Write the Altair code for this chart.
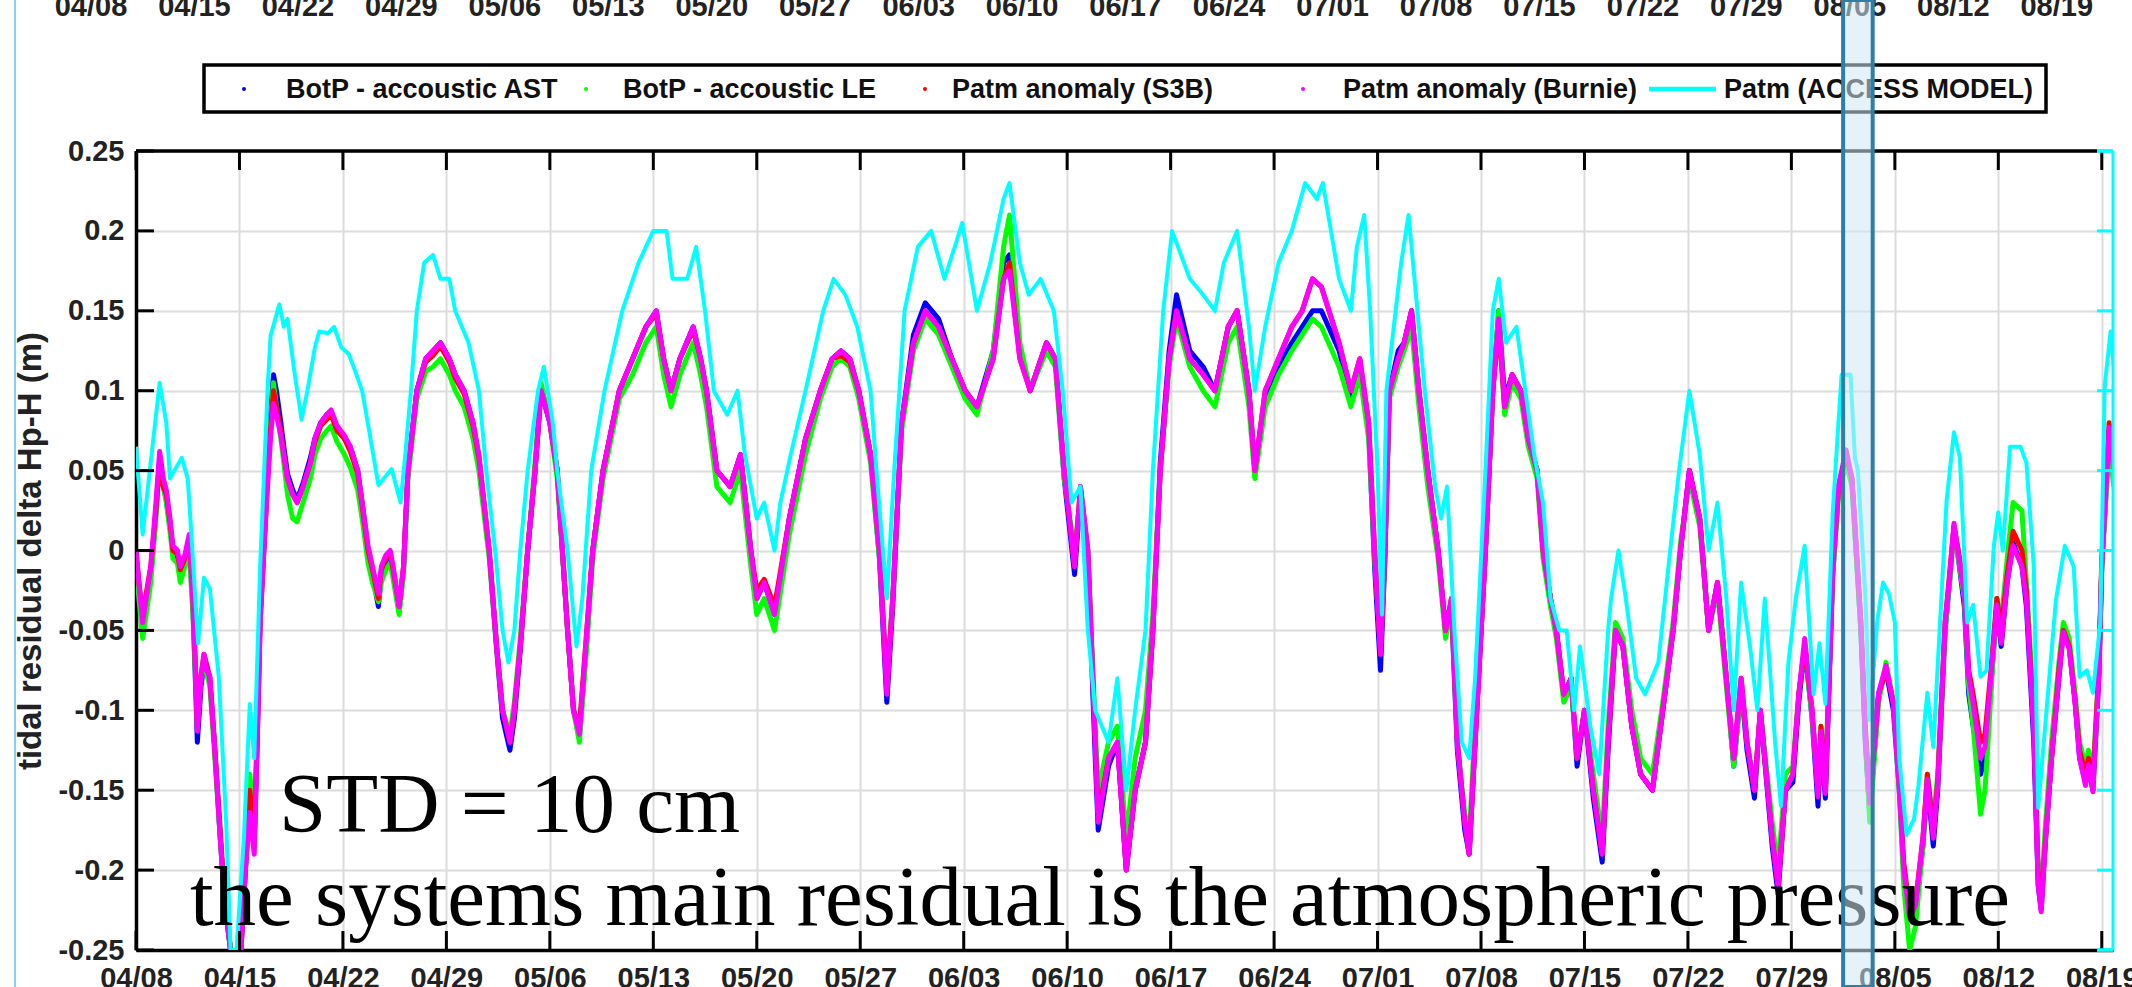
import altair as alt
import pandas as pd

START = pd.Timestamp("2019-04-08 00:00:00")
END_DAY = 133.76

SERIES = ["BotP - accoustic AST", "BotP - accoustic LE", "Patm anomaly (S3B)",
          "Patm anomaly (Burnie)", "Patm (ACCESS MODEL)"]
COLORS = ["#0000ff", "#00ff00", "#ff0000", "#ff00ff", "#00ffff"]

TICK_LABELS = ["04/08", "04/15", "04/22", "04/29", "05/06", "05/13", "05/20", "05/27",
               "06/03", "06/10", "06/17", "06/24", "07/01", "07/08", "07/15", "07/22",
               "07/29", "08/05", "08/12", "08/19"]
Y_TICKS = [-0.25, -0.2, -0.15, -0.1, -0.05, 0, 0.05, 0.1, 0.15, 0.2, 0.25]
ANNOTATIONS = ["STD = 10 cm", "the systems main residual is the atmospheric pressure"]
BAND_DAYS = [115.5, 117.5]

# days since 04/08 shared by the four bottom-pressure / Patm-anomaly series
MAIN_DAYS = [
    0.0, 0.45, 1.0, 1.35, 1.6, 1.85, 2.05, 2.3, 2.5, 2.8,
    3.0, 3.3, 3.6, 3.85, 4.05, 4.15, 4.4, 4.6, 4.8, 5.0,
    5.3, 5.7, 6.0, 6.4, 6.8, 7.1, 7.4, 7.7, 8.0, 8.2,
    8.4, 8.65, 8.9, 9.1, 9.3, 9.5, 9.8, 10.0, 10.25, 10.6,
    10.9, 11.3, 11.8, 12.1, 12.5, 12.9, 13.2, 13.6, 14.1, 14.5,
    15.0, 15.3, 15.7, 16.0, 16.4, 16.6, 16.9, 17.2, 17.4, 17.8,
    18.1, 18.4, 19.0, 19.6, 20.1, 20.6, 21.2, 21.6, 22.2, 22.8,
    23.2, 23.9, 24.4, 24.8, 25.3, 25.6, 26.0, 26.5, 27.0, 27.4,
    28.0, 28.5, 29.2, 29.6, 30.0, 30.5, 30.9, 31.6, 32.7, 33.6,
    34.5, 35.2, 35.7, 36.2, 36.8, 37.7, 38.2, 38.6, 39.3, 40.2,
    40.9, 41.6, 42.0, 42.5, 43.2, 44.2, 45.3, 46.3, 47.1, 47.7,
    48.3, 48.9, 49.7, 50.3, 50.8, 51.2, 51.8, 52.6, 53.4, 54.3,
    55.2, 56.1, 56.9, 58.0, 58.7, 59.1, 59.8, 60.5, 61.6, 62.2,
    62.8, 63.5, 63.9, 64.4, 64.9, 65.1, 65.8, 66.4, 67.0, 67.6,
    68.3, 68.8, 69.3, 69.9, 70.4, 71.3, 72.2, 73.0, 73.9, 74.5,
    75.3, 75.7, 76.4, 77.3, 78.2, 78.9, 79.6, 80.2, 81.4, 82.2,
    82.8, 83.4, 83.8, 84.2, 84.5, 84.8, 85.4, 85.8, 86.3, 86.8,
    87.4, 88.1, 88.6, 89.0, 89.4, 89.9, 90.2, 90.6, 91.3, 91.8,
    92.2, 92.6, 93.1, 93.7, 94.2, 94.8, 95.2, 95.7, 96.1, 96.6,
    97.1, 97.5, 98.0, 98.6, 99.2, 99.6, 100.1, 100.6, 101.2, 101.8,
    102.6, 103.3, 104.0, 104.5, 105.1, 105.8, 106.4, 107.0, 107.6, 108.1,
    108.6, 109.0, 109.5, 109.9, 110.7, 111.1, 111.6, 112.1, 112.5, 112.9,
    113.4, 113.8, 114.0, 114.3, 114.8, 115.2, 115.7, 116.1, 116.3, 116.7,
    117.0, 117.3, 117.9, 118.4, 118.9, 119.3, 119.6, 120.0, 120.4, 120.9,
    121.2, 121.6, 121.9, 122.4, 122.7, 123.0, 123.3, 123.7, 124.0, 124.3,
    124.8, 125.1, 125.5, 125.9, 126.2, 126.6, 127.0, 127.6, 127.9, 128.4,
    128.7, 128.9, 129.2, 129.6, 130.1, 130.4, 130.8, 131.2, 131.5, 131.9,
    132.1, 132.4, 132.8, 133.0, 133.4, 133.5, 133.8,
]

AST = [
    0.0, -0.05, -0.015, 0.025, 0.058, 0.04, 0.032, 0.015, 0.0, -0.005,
    -0.015, -0.008, 0.005, -0.035, -0.09, -0.12, -0.085, -0.07, -0.075, -0.082,
    -0.12, -0.18, -0.22, -0.25, -0.26, -0.25, -0.2, -0.155, -0.185, -0.115,
    -0.04, 0.005, 0.05, 0.085, 0.11, 0.1, 0.08, 0.065, 0.048, 0.038,
    0.032, 0.042, 0.058, 0.07, 0.08, 0.085, 0.086, 0.076, 0.07, 0.065,
    0.05, 0.03, 0.0, -0.015, -0.035, -0.015, -0.008, -0.005, -0.015, -0.038,
    -0.012, 0.05, 0.1, 0.12, 0.125, 0.13, 0.12, 0.11, 0.1, 0.08,
    0.058, -0.002, -0.062, -0.105, -0.125, -0.105, -0.062, 0.0, 0.05, 0.1,
    0.08, 0.05, -0.05, -0.1, -0.115, -0.055, 0.0, 0.05, 0.1, 0.12,
    0.14, 0.15, 0.12, 0.1, 0.12, 0.14, 0.12, 0.1, 0.05, 0.04,
    0.06, 0.0, -0.03, -0.02, -0.04, 0.02, 0.07, 0.1, 0.12, 0.125,
    0.12, 0.1, 0.06, -0.005, -0.095, -0.035, 0.08, 0.135, 0.155, 0.145,
    0.12, 0.1, 0.09, 0.125, 0.18, 0.185, 0.125, 0.1, 0.13, 0.12,
    0.045, -0.015, 0.035, -0.005, -0.13, -0.175, -0.135, -0.12, -0.2, -0.15,
    -0.12, -0.05, 0.055, 0.125, 0.16, 0.125, 0.115, 0.1, 0.14, 0.15,
    0.1, 0.05, 0.095, 0.115, 0.13, 0.14, 0.15, 0.15, 0.125, 0.095,
    0.115, 0.075, -0.01, -0.075, -0.005, 0.1, 0.125, 0.13, 0.15, 0.1,
    0.05, 0.0, -0.05, -0.035, -0.125, -0.175, -0.19, -0.12, 0.0, 0.1,
    0.15, 0.095, 0.11, 0.1, 0.07, 0.05, 0.0, -0.03, -0.05, -0.09,
    -0.08, -0.135, -0.1, -0.155, -0.195, -0.125, -0.05, -0.06, -0.11, -0.14,
    -0.15, -0.1, -0.05, 0.0, 0.05, 0.02, -0.05, -0.02, -0.08, -0.135,
    -0.085, -0.125, -0.155, -0.1, -0.185, -0.215, -0.15, -0.145, -0.095, -0.06,
    -0.105, -0.16, -0.12, -0.155, -0.015, 0.04, 0.06, 0.042, 0.012, -0.05,
    -0.12, -0.165, -0.09, -0.075, -0.1, -0.15, -0.2, -0.23, -0.225, -0.185,
    -0.145, -0.185, -0.15, -0.05, -0.02, 0.015, -0.005, -0.035, -0.09, -0.11,
    -0.14, -0.13, -0.085, -0.035, -0.06, -0.02, 0.005, -0.01, -0.035, -0.12,
    -0.21, -0.225, -0.18, -0.13, -0.08, -0.05, -0.06, -0.095, -0.13, -0.145,
    -0.135, -0.15, -0.08, -0.01, 0.055, 0.075, 0.05,
]

LE = [
    -0.01, -0.055, -0.02, 0.02, 0.058, 0.04, 0.03, 0.012, -0.005, -0.008,
    -0.02, -0.01, 0.0, -0.04, -0.085, -0.11, -0.08, -0.068, -0.078, -0.085,
    -0.125, -0.18, -0.22, -0.25, -0.26, -0.25, -0.19, -0.14, -0.17, -0.11,
    -0.04, 0.0, 0.045, 0.08, 0.105, 0.09, 0.07, 0.055, 0.035, 0.02,
    0.018, 0.03, 0.045, 0.06, 0.07, 0.075, 0.078, 0.068, 0.06, 0.052,
    0.038, 0.02, -0.008, -0.02, -0.032, -0.02, -0.012, -0.008, -0.018, -0.04,
    -0.015, 0.045, 0.095, 0.112, 0.115, 0.12, 0.11, 0.1, 0.09, 0.07,
    0.05, -0.005, -0.06, -0.1, -0.115, -0.095, -0.055, 0.0, 0.055, 0.105,
    0.08, 0.045, -0.05, -0.1, -0.12, -0.06, -0.005, 0.045, 0.095, 0.11,
    0.13, 0.14, 0.11, 0.09, 0.11, 0.13, 0.11, 0.09, 0.04, 0.03,
    0.05, -0.01, -0.04, -0.03, -0.05, 0.01, 0.06, 0.095, 0.115, 0.12,
    0.115, 0.095, 0.055, -0.005, -0.08, -0.03, 0.075, 0.125, 0.145, 0.135,
    0.115, 0.095, 0.085, 0.125, 0.19, 0.21, 0.13, 0.1, 0.125, 0.115,
    0.045, 0.0, 0.035, 0.0, -0.11, -0.15, -0.12, -0.11, -0.18, -0.13,
    -0.1, -0.04, 0.05, 0.115, 0.145, 0.115, 0.1, 0.09, 0.13, 0.14,
    0.09, 0.045, 0.09, 0.11, 0.125, 0.135, 0.145, 0.14, 0.115, 0.09,
    0.11, 0.07, -0.005, -0.06, 0.0, 0.095, 0.115, 0.125, 0.14, 0.09,
    0.04, -0.005, -0.055, -0.035, -0.12, -0.165, -0.18, -0.11, 0.0, 0.1,
    0.15, 0.085, 0.105, 0.095, 0.065, 0.045, -0.005, -0.035, -0.055, -0.095,
    -0.085, -0.13, -0.1, -0.14, -0.18, -0.11, -0.045, -0.055, -0.1, -0.13,
    -0.14, -0.095, -0.045, 0.005, 0.045, 0.015, -0.05, -0.025, -0.085, -0.135,
    -0.085, -0.12, -0.15, -0.1, -0.17, -0.2, -0.14, -0.135, -0.09, -0.06,
    -0.105, -0.15, -0.11, -0.14, -0.015, 0.035, 0.055, 0.04, 0.01, -0.05,
    -0.115, -0.17, -0.095, -0.07, -0.095, -0.15, -0.21, -0.25, -0.235, -0.185,
    -0.14, -0.17, -0.14, -0.05, -0.02, 0.012, -0.005, -0.03, -0.085, -0.11,
    -0.165, -0.15, -0.09, -0.03, -0.045, -0.005, 0.03, 0.025, -0.02, -0.1,
    -0.2, -0.215, -0.17, -0.12, -0.07, -0.045, -0.055, -0.09, -0.12, -0.135,
    -0.125, -0.14, -0.075, -0.01, 0.05, 0.07, 0.04,
]

S3B = [
    -0.005, -0.04, -0.01, 0.025, 0.055, 0.04, 0.035, 0.018, 0.0, -0.002,
    -0.012, -0.005, 0.008, -0.03, -0.08, -0.11, -0.078, -0.065, -0.072, -0.08,
    -0.12, -0.175, -0.22, -0.25, -0.26, -0.25, -0.2, -0.15, -0.18, -0.12,
    -0.045, 0.0, 0.045, 0.075, 0.1, 0.09, 0.075, 0.06, 0.045, 0.035,
    0.03, 0.04, 0.055, 0.068, 0.078, 0.082, 0.085, 0.075, 0.07, 0.062,
    0.048, 0.028, 0.0, -0.012, -0.03, -0.012, -0.005, -0.002, -0.012, -0.035,
    -0.01, 0.05, 0.1, 0.118, 0.122, 0.128, 0.118, 0.108, 0.098, 0.078,
    0.058, 0.0, -0.06, -0.1, -0.12, -0.1, -0.06, 0.0, 0.05, 0.1,
    0.08, 0.05, -0.05, -0.1, -0.11, -0.05, 0.0, 0.05, 0.1, 0.12,
    0.14, 0.148, 0.12, 0.1, 0.12, 0.138, 0.12, 0.1, 0.05, 0.04,
    0.06, 0.0, -0.025, -0.018, -0.035, 0.02, 0.07, 0.1, 0.12, 0.122,
    0.118, 0.1, 0.06, 0.0, -0.085, -0.03, 0.08, 0.13, 0.15, 0.14,
    0.12, 0.1, 0.09, 0.12, 0.17, 0.18, 0.12, 0.1, 0.13, 0.12,
    0.05, -0.01, 0.04, 0.0, -0.12, -0.165, -0.13, -0.12, -0.2, -0.15,
    -0.12, -0.05, 0.05, 0.12, 0.15, 0.12, 0.11, 0.1, 0.14, 0.15,
    0.1, 0.05, 0.1, 0.12, 0.14, 0.15, 0.17, 0.165, 0.13, 0.1,
    0.12, 0.08, 0.0, -0.065, 0.0, 0.1, 0.12, 0.13, 0.15, 0.1,
    0.05, 0.0, -0.05, -0.03, -0.12, -0.17, -0.19, -0.12, 0.0, 0.1,
    0.14, 0.09, 0.11, 0.1, 0.07, 0.05, 0.0, -0.03, -0.05, -0.09,
    -0.08, -0.13, -0.1, -0.15, -0.19, -0.12, -0.05, -0.06, -0.11, -0.14,
    -0.15, -0.1, -0.05, 0.0, 0.05, 0.02, -0.05, -0.02, -0.08, -0.13,
    -0.08, -0.12, -0.15, -0.1, -0.18, -0.21, -0.15, -0.14, -0.09, -0.06,
    -0.1, -0.15, -0.11, -0.15, -0.01, 0.04, 0.06, 0.045, 0.015, -0.045,
    -0.11, -0.155, -0.09, -0.075, -0.095, -0.145, -0.195, -0.225, -0.22, -0.18,
    -0.14, -0.175, -0.145, -0.045, -0.015, 0.015, 0.0, -0.025, -0.075, -0.09,
    -0.12, -0.115, -0.075, -0.03, -0.05, -0.015, 0.012, 0.0, -0.025, -0.11,
    -0.205, -0.22, -0.18, -0.13, -0.075, -0.05, -0.06, -0.095, -0.125, -0.14,
    -0.13, -0.145, -0.075, -0.005, 0.062, 0.08, 0.055,
]

BURNIE = [
    0.0, -0.045, -0.01, 0.03, 0.062, 0.045, 0.038, 0.02, 0.003, 0.0,
    -0.01, -0.003, 0.01, -0.03, -0.08, -0.113, -0.08, -0.065, -0.075, -0.079,
    -0.12, -0.18, -0.22, -0.25, -0.26, -0.25, -0.2, -0.164, -0.19, -0.12,
    -0.045, 0.0, 0.04, 0.07, 0.092, 0.085, 0.072, 0.06, 0.045, 0.035,
    0.03, 0.04, 0.055, 0.07, 0.08, 0.085, 0.088, 0.078, 0.072, 0.065,
    0.05, 0.03, 0.003, -0.01, -0.027, -0.01, -0.003, 0.0, -0.01, -0.035,
    -0.01, 0.05, 0.1, 0.12, 0.125, 0.13, 0.12, 0.11, 0.1, 0.08,
    0.06, 0.0, -0.06, -0.1, -0.12, -0.1, -0.06, 0.0, 0.05, 0.1,
    0.08, 0.05, -0.05, -0.1, -0.115, -0.05, 0.0, 0.05, 0.1, 0.12,
    0.14, 0.15, 0.12, 0.1, 0.12, 0.14, 0.12, 0.1, 0.05, 0.04,
    0.06, 0.0, -0.03, -0.02, -0.04, 0.02, 0.07, 0.1, 0.12, 0.125,
    0.12, 0.1, 0.06, 0.0, -0.09, -0.03, 0.08, 0.13, 0.15, 0.14,
    0.12, 0.1, 0.09, 0.12, 0.17, 0.175, 0.12, 0.1, 0.13, 0.12,
    0.05, -0.01, 0.04, 0.0, -0.12, -0.17, -0.13, -0.12, -0.2, -0.15,
    -0.12, -0.05, 0.05, 0.12, 0.15, 0.12, 0.11, 0.1, 0.14, 0.15,
    0.1, 0.05, 0.1, 0.12, 0.14, 0.15, 0.17, 0.165, 0.13, 0.1,
    0.12, 0.08, 0.0, -0.065, 0.0, 0.1, 0.12, 0.13, 0.15, 0.1,
    0.05, 0.0, -0.05, -0.03, -0.12, -0.17, -0.19, -0.12, 0.0, 0.1,
    0.145, 0.09, 0.11, 0.1, 0.07, 0.05, 0.0, -0.03, -0.05, -0.09,
    -0.08, -0.13, -0.1, -0.15, -0.19, -0.12, -0.05, -0.06, -0.11, -0.14,
    -0.15, -0.1, -0.05, 0.0, 0.05, 0.02, -0.05, -0.02, -0.08, -0.13,
    -0.08, -0.12, -0.15, -0.1, -0.18, -0.21, -0.15, -0.14, -0.09, -0.055,
    -0.1, -0.154, -0.113, -0.152, -0.01, 0.041, 0.063, 0.045, 0.017, -0.045,
    -0.113, -0.158, -0.089, -0.072, -0.096, -0.147, -0.199, -0.23, -0.222, -0.18,
    -0.143, -0.18, -0.147, -0.045, -0.017, 0.017, -0.003, -0.027, -0.079, -0.096,
    -0.13, -0.123, -0.079, -0.034, -0.058, -0.02, 0.003, -0.01, -0.031, -0.113,
    -0.209, -0.226, -0.18, -0.13, -0.079, -0.051, -0.062, -0.096, -0.13, -0.147,
    -0.134, -0.151, -0.079, -0.01, 0.058, 0.077, 0.051,
]

# ACCESS model Patm series: (day since 04/08, value)
CYAN = [(0.0,0.065),(0.45,0.01),(1.6,0.105),(2.05,0.08),(2.3,0.045),(2.6,0.05),(3.1,0.058),(3.5,0.045),(3.75,0.01),(4.2,-0.058),(4.6,-0.017),(5.0,-0.024),(5.6,-0.079),(6.1,-0.17),(6.4,-0.25),(6.8,-0.25),(7.3,-0.18),(7.7,-0.096),(8.0,-0.13),(8.4,-0.01),(8.9,0.1),(9.1,0.134),(9.7,0.154),(10.0,0.14),(10.25,0.145),(10.7,0.113),(11.2,0.082),(11.6,0.1),(12.1,0.127),(12.4,0.137),(13.0,0.136),(13.4,0.14),(13.9,0.127),(14.4,0.123),(14.8,0.113),(15.3,0.1),(15.7,0.079),(16.4,0.041),(17.3,0.051),(17.9,0.03),(18.2,0.058),(18.6,0.1),(19.0,0.15),(19.5,0.18),(20.1,0.185),(20.6,0.17),(21.2,0.17),(21.6,0.15),(22.5,0.13),(23.2,0.1),(23.7,0.05),(24.3,0.0),(24.8,-0.05),(25.2,-0.07),(25.6,-0.05),(26.0,0.0),(26.5,0.05),(27.2,0.1),(27.6,0.115),(28.2,0.08),(28.5,0.05),(29.2,0.0),(29.8,-0.06),(30.2,-0.03),(30.8,0.05),(31.7,0.1),(32.9,0.15),(34.0,0.18),(35.0,0.2),(35.9,0.2),(36.3,0.17),(37.3,0.17),(37.9,0.19),(38.5,0.15),(39.1,0.1),(40.0,0.085),(40.7,0.1),(41.2,0.06),(42.0,0.02),(42.5,0.03),(43.2,0.0),(43.6,0.03),(44.3,0.06),(45.3,0.1),(46.5,0.15),(47.2,0.17),(48.0,0.16),(48.8,0.14),(49.7,0.1),(50.1,0.05),(50.8,-0.03),(51.3,0.05),(52.0,0.15),(52.9,0.19),(53.8,0.2),(54.7,0.17),(55.4,0.19),(55.9,0.205),(56.9,0.15),(57.8,0.18),(58.7,0.22),(59.1,0.23),(59.8,0.18),(60.4,0.16),(61.2,0.17),(62.1,0.15),(62.7,0.1),(63.3,0.03),(63.9,0.04),(64.4,-0.05),(64.9,-0.1),(65.8,-0.12),(66.4,-0.08),(67.0,-0.15),(67.6,-0.1),(68.3,-0.05),(68.8,0.05),(69.5,0.15),(70.1,0.2),(70.5,0.19),(71.3,0.17),(72.2,0.16),(73.0,0.15),(73.6,0.18),(74.5,0.2),(75.3,0.14),(75.7,0.1),(76.4,0.14),(77.3,0.18),(78.2,0.2),(79.1,0.23),(79.9,0.22),(80.3,0.23),(81.4,0.17),(82.2,0.15),(82.6,0.19),(83.1,0.21),(83.5,0.15),(84.0,0.05),(84.3,-0.04),(84.6,0.1),(85.6,0.18),(86.1,0.21),(86.7,0.15),(87.2,0.1),(87.9,0.04),(88.3,0.02),(88.7,0.04),(89.2,-0.05),(89.7,-0.12),(90.2,-0.13),(90.6,-0.08),(91.3,0.05),(91.8,0.15),(92.2,0.17),(92.7,0.13),(93.4,0.14),(94.0,0.1),(94.6,0.06),(95.2,0.03),(95.7,-0.03),(96.3,-0.05),(96.8,-0.05),(97.3,-0.1),(97.7,-0.06),(98.4,-0.11),(99.0,-0.14),(99.6,-0.05),(99.8,-0.03),(100.3,0.0),(100.8,-0.03),(101.5,-0.08),(102.1,-0.09),(103.0,-0.07),(103.8,0.0),(104.4,0.05),(105.1,0.1),(105.8,0.06),(106.4,0.0),(107.0,0.03),(107.6,-0.03),(108.1,-0.1),(108.6,-0.02),(109.2,-0.06),(109.7,-0.1),(110.2,-0.03),(110.9,-0.12),(111.3,-0.16),(111.8,-0.07),(112.3,-0.03),(112.9,0.003),(113.5,-0.09),(113.9,-0.058),(114.3,-0.096),(114.8,0.024),(115.1,0.068),(115.4,0.11),(116.0,0.11),(116.3,0.058),(116.5,0.05),(117.0,-0.027),(117.3,-0.106),(117.8,-0.045),(118.2,-0.02),(118.6,-0.027),(119.0,-0.045),(119.3,-0.13),(119.8,-0.178),(120.3,-0.168),(120.6,-0.147),(121.2,-0.089),(121.6,-0.123),(122.1,-0.038),(122.5,0.031),(123.0,0.074),(123.4,0.058),(123.9,-0.045),(124.3,-0.034),(124.8,-0.079),(125.2,-0.075),(125.7,0.003),(126.0,0.024),(126.3,0.0),(126.8,0.065),(127.5,0.065),(127.9,0.055),(128.4,-0.01),(128.7,-0.161),(129.3,-0.096),(129.9,-0.031),(130.5,0.003),(131.1,-0.01),(131.5,-0.079),(132.0,-0.075),(132.4,-0.089),(132.9,-0.045),(133.2,0.103),(133.6,0.137),(133.9,0.106)]

# ---- layout constants (pixels, relative to the plot origin) ----
W, H = 1977, 799
LEG_BOX = (68, 1910, -86, -39)
LEG_SYMBOL_X = [108, 450, 789, 1167, 1513]
LEG_LINE_LEN = 67
LEG_LABEL_X = [150, 487, 816, 1207, 1588]
LEG_Y = -62
ANN_POS = [(143, 681), (54, 774)]


def iso(d):
    return (START + pd.Timedelta(days=d)).strftime("%Y-%m-%dT%H:%M:%S")


def dt(d):
    ts = START + pd.Timedelta(days=d)
    return alt.DateTime(year=ts.year, month=ts.month, date=ts.day, hours=ts.hour, minutes=ts.minute)


tick_days = [7 * i for i in range(len(TICK_LABELS))]
tick_df = pd.DataFrame({"t": [iso(d) for d in tick_days], "label": TICK_LABELS})
ytick_df = pd.DataFrame({"v": Y_TICKS})

XS = alt.Scale(domain=[dt(0), dt(END_DAY)])
YS = alt.Scale(domain=[-0.25, 0.25], nice=False, zero=False)

x_axis = alt.Axis(values=[dt(d) for d in tick_days], format="%m/%d", title=None,
                  labelFont="Liberation Sans", labelFontSize=29, labelFontWeight="bold",
                  labelColor="#222222", labelPadding=14, ticks=False, labelFlush=False,
                  labelOverlap=False, domainColor="black", domainWidth=3.5,
                  grid=True, gridColor="#dcdcdc", gridWidth=2)
y_axis = alt.Axis(values=Y_TICKS, labelExpr="toString(datum.value)",
                  title="tidal residual delta Hp-H (m)", titleFont="Liberation Sans",
                  titleFontSize=33, titleFontWeight="bold", titleColor="#222222",
                  titleX=-106, titleY=H / 2, titleBaseline="middle", titleAngle=270,
                  titleAlign="center",
                  labelFont="Liberation Sans", labelFontSize=29, labelFontWeight="bold",
                  labelColor="#222222", labelPadding=12, ticks=False, labelFlush=False,
                  labelOverlap=False, domainColor="black", domainWidth=3.5,
                  grid=True, gridColor="#dcdcdc", gridWidth=2)

assert len(MAIN_DAYS) == len(AST) == len(LE) == len(S3B) == len(BURNIE)


def series_df(name, days, vals):
    return pd.DataFrame({"t": [iso(d) for d in days], "v": vals,
                         "o": list(range(len(days))), "series": name})


frames = [
    series_df(SERIES[0], MAIN_DAYS, AST),
    series_df(SERIES[1], MAIN_DAYS, LE),
    series_df(SERIES[2], MAIN_DAYS, S3B),
    series_df(SERIES[3], MAIN_DAYS, BURNIE),
    series_df(SERIES[4], [d for d, _ in CYAN], [v for _, v in CYAN]),
]

layers = []
for i, (df, color) in enumerate(zip(frames, COLORS)):
    if i == 0:
        xe = alt.X("t:T", scale=XS, axis=x_axis)
        ye = alt.Y("v:Q", scale=YS, axis=y_axis)
    else:
        xe = alt.X("t:T", scale=XS)
        ye = alt.Y("v:Q", scale=YS)
    sw = 4 if i == 4 else 5
    layers.append(alt.Chart(df).mark_line(color=color, strokeWidth=sw, clip=True,
                                          strokeJoin="round")
                  .encode(x=xe, y=ye, order="o:Q"))

# inward ticks
layers.append(alt.Chart(ytick_df).mark_rule(color="black", strokeWidth=3).encode(
    y=alt.Y("v:Q", scale=YS), x=alt.value(0), x2=alt.value(18)))
layers.append(alt.Chart(ytick_df).mark_rule(color="#00ffff", strokeWidth=3).encode(
    y=alt.Y("v:Q", scale=YS), x=alt.value(W - 16), x2=alt.value(W)))
layers.append(alt.Chart(tick_df).mark_rule(color="black", strokeWidth=3).encode(
    x=alt.X("t:T", scale=XS), y=alt.value(0), y2=alt.value(19)))
layers.append(alt.Chart(tick_df).mark_rule(color="black", strokeWidth=3).encode(
    x=alt.X("t:T", scale=XS), y=alt.value(H - 19), y2=alt.value(H)))

# box borders
one = pd.DataFrame({"k": [0]})
layers.append(alt.Chart(one).mark_rule(color="black", strokeWidth=3.5).encode(
    x=alt.value(0), x2=alt.value(W - 16), y=alt.value(0)))
layers.append(alt.Chart(one).mark_rule(color="#00ffff", strokeWidth=3.5).encode(
    x=alt.value(W - 16), x2=alt.value(W), y=alt.value(0)))
layers.append(alt.Chart(one).mark_rule(color="#00ffff", strokeWidth=3.5).encode(
    x=alt.value(W - 16), x2=alt.value(W), y=alt.value(H)))
layers.append(alt.Chart(one).mark_rule(color="#00ffff", strokeWidth=3).encode(
    x=alt.value(W), y=alt.value(0), y2=alt.value(H)))
layers.append(alt.Chart(one).mark_rule(color="#88d0f2", strokeWidth=2).encode(
    x=alt.value(-121), y=alt.value(-151), y2=alt.value(836)))

# cut-off labels of the chart above
layers.append(alt.Chart(tick_df).mark_text(font="Liberation Sans", fontSize=29, fontWeight="bold",
                                           color="#222222", baseline="alphabetic", dx=-45).encode(
    x=alt.X("t:T", scale=XS), y=alt.value(-135), text="label:N"))

# annotations
for txt, (ax, ay) in zip(ANNOTATIONS, ANN_POS):
    layers.append(alt.Chart(pd.DataFrame({"text": [txt]})).mark_text(
        font="Liberation Serif", fontSize=85, align="left", baseline="alphabetic",
        color="black").encode(x=alt.value(ax), y=alt.value(ay), text="text:N"))

# legend (drawn by hand, one entry per series)
layers.append(alt.Chart(one).mark_rect(fill="white", stroke="black", strokeWidth=3.5).encode(
    x=alt.value(LEG_BOX[0]), x2=alt.value(LEG_BOX[1]), y=alt.value(LEG_BOX[2]), y2=alt.value(LEG_BOX[3])))
leg_df = pd.DataFrame({"series": SERIES, "color": COLORS, "sx": LEG_SYMBOL_X, "lx": LEG_LABEL_X,
                       "ex": [x + LEG_LINE_LEN for x in LEG_SYMBOL_X]})
layers.append(alt.Chart(leg_df.iloc[:4]).mark_point(filled=True, size=16, opacity=1).encode(
    x=alt.X("sx:Q", scale=None), y=alt.value(LEG_Y), color=alt.Color("color:N", scale=None)))
layers.append(alt.Chart(leg_df.iloc[4:]).mark_rule(strokeWidth=4.5).encode(
    x=alt.X("sx:Q", scale=None), x2="ex:Q", y=alt.value(LEG_Y),
    color=alt.Color("color:N", scale=None)))
layers.append(alt.Chart(leg_df).mark_text(font="Liberation Sans", fontSize=27, fontWeight="bold",
                                          color="#111111", align="left", baseline="middle").encode(
    x=alt.X("lx:Q", scale=None), y=alt.value(LEG_Y + 1), text="series:N"))

# highlight band (drawn last, over everything)
band_df = pd.DataFrame({"t0": [iso(BAND_DAYS[0])], "t1": [iso(BAND_DAYS[1])]})
layers.append(alt.Chart(band_df).mark_rect(fill="#cfe8f6", fillOpacity=0.55, stroke="#2e7fa8",
                                           strokeWidth=4).encode(
    x=alt.X("t0:T", scale=XS), x2="t1:T", y=alt.value(-151), y2=alt.value(836)))

chart = alt.layer(*layers).properties(
    width=W, height=H,
    autosize=alt.AutoSizeParams(type="none"),
    padding={"left": 136, "top": 151, "right": 19, "bottom": 37},
    background="white",
).configure_view(stroke=None)

chart.save("out.html", embed_options={"renderer": "svg", "actions": False})
